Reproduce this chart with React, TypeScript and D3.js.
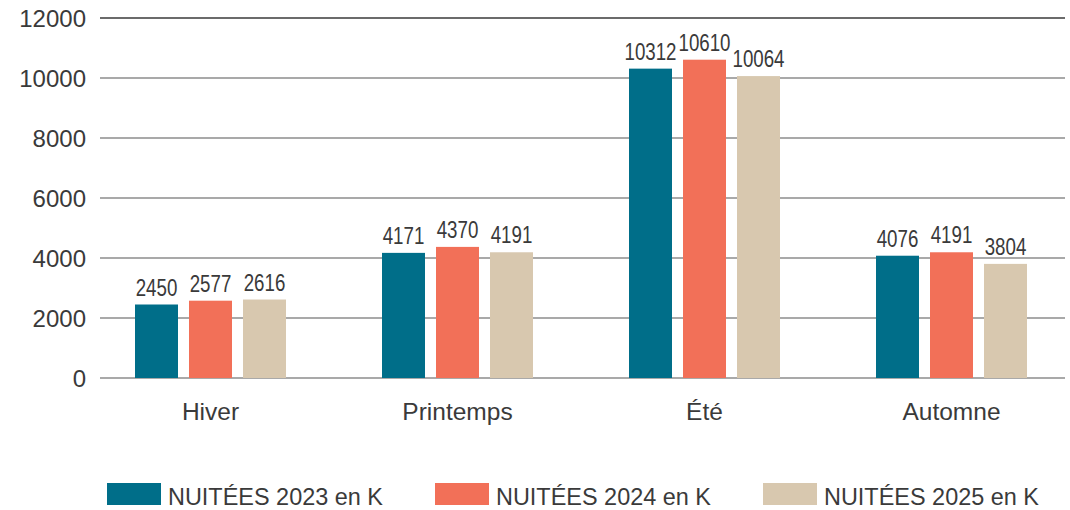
import React from 'react';
import * as d3 from 'd3';

const seasons = ['Hiver', 'Printemps', 'Été', 'Automne'];
const seriesNames = ['NUITÉES 2023 en K', 'NUITÉES 2024 en K', 'NUITÉES 2025 en K'];
const nuitees2023 = [2450, 4171, 10312, 4076];
const nuitees2024 = [2577, 4370, 10610, 4191];
const nuitees2025 = [2616, 4191, 10064, 3804];
const yTicks = [0, 2000, 4000, 6000, 8000, 10000, 12000];
const colors = ['#006E89', '#F27058', '#D8C8AF'];

const W = 1070;
const H = 510;

const App: React.FC = () => {
  const series = [nuitees2023, nuitees2024, nuitees2025];

  // plot geometry
  const x = d3.scaleBand<string>().domain(seasons).range([87, 1075]).paddingInner(0).paddingOuter(0);
  const y = d3.scaleLinear().domain([0, 12000]).range([378, 18]);
  const barW = 43;
  const barStep = 54;

  const font = '"Liberation Sans", Arial, sans-serif';
  const ink = '#3a3a3a';

  return (
    <div style={{ position: 'absolute', left: 0, top: 0 }}>
      <svg width={W} height={H} style={{ display: 'block', background: '#fff' }}>
        {/* grid */}
        {yTicks.map(t => (
          <g key={t}>
            <line
              x1={100}
              x2={1065}
              y1={y(t)}
              y2={y(t)}
              stroke={t === 12000 ? '#3a3a3a' : '#8c8c8c'}
              strokeWidth={1.5}
            />
            <text
              x={86}
              y={y(t)}
              dy="0.36em"
              textAnchor="end"
              fontFamily={font}
              fontSize={24}
              fill={ink}
            >
              {t}
            </text>
          </g>
        ))}

        {/* bars */}
        {seasons.map((s, i) => {
          const cx = (x(s) as number) + x.bandwidth() / 2;
          return (
            <g key={s}>
              {series.map((vals, k) => {
                const bx = cx + (k - 1) * barStep - barW / 2;
                const v = vals[i];
                const lx = bx + barW / 2;
                const ly = y(v) - 9;
                return (
                  <g key={k}>
                    <rect x={bx} y={y(v)} width={barW} height={y(0) - y(v)} fill={colors[k]} />
                    <text
                      transform={`translate(${lx},${ly}) scale(0.78,1)`}
                      textAnchor="middle"
                      fontFamily={font}
                      fontSize={24}
                      fill={ink}
                    >
                      {v}
                    </text>
                  </g>
                );
              })}
              <text
                x={cx}
                y={420}
                textAnchor="middle"
                fontFamily={font}
                fontSize={24.5}
                fill={ink}
              >
                {s}
              </text>
            </g>
          );
        })}

        {/* legend */}
        {seriesNames.map((name, k) => {
          const lx = 107 + k * 328;
          return (
            <g key={name}>
              <rect x={lx} y={483} width={54} height={22} fill={colors[k]} />
              <text
                x={lx + 61}
                y={505}
                fontFamily={font}
                fontSize={24}
                fill={ink}
                textLength={215}
                lengthAdjust="spacingAndGlyphs"
              >
                {name}
              </text>
            </g>
          );
        })}
      </svg>
    </div>
  );
};

export default App;
